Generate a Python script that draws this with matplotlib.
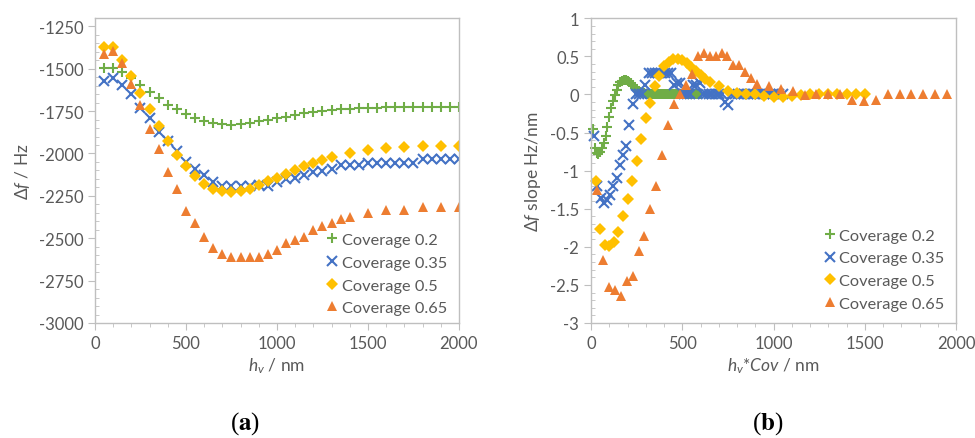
import matplotlib
matplotlib.use('Agg')
import numpy as np
import matplotlib.pyplot as plt
from matplotlib.ticker import MultipleLocator

plt.rcParams['font.family'] = ['Lato', 'DejaVu Sans']
plt.rcParams['axes.unicode_minus'] = False
plt.rcParams['mathtext.fontset'] = 'custom'
plt.rcParams['mathtext.rm'] = 'Lato'
plt.rcParams['mathtext.it'] = 'Lato:italic'
plt.rcParams['mathtext.bf'] = 'Lato:bold'

# h_v grids (nm)
h_dense = [50, 100, 150, 200, 250, 300, 350, 400, 450, 500, 550, 600, 650, 700, 750,
           800, 850, 900, 950, 1000, 1050, 1100, 1150, 1200, 1250, 1300, 1350, 1400,
           1450, 1500, 1550, 1600, 1650, 1700, 1750, 1800, 1850, 1900, 1950, 2000,
           2050, 2100, 2150, 2200, 2250, 2300, 2350, 2400, 2450, 2500, 2550, 2600,
           2650, 2700, 2750, 2800, 2850, 2900, 2950, 3000]
h_yellow = [50, 100, 150, 200, 250, 300, 350, 400, 450, 500, 550, 600, 650, 700, 750,
            800, 850, 900, 950, 1000, 1050, 1100, 1150, 1200, 1250, 1300,
            1400, 1500, 1600, 1700, 1800, 1900, 2000, 2100, 2200, 2300, 2400, 2500,
            2600, 2700, 2800, 2900, 3000]
h_orange = [50, 100, 150, 200, 250, 300, 350, 400, 450, 500, 550, 600, 650, 700, 750,
            800, 850, 900, 950, 1000, 1050, 1100, 1150, 1200, 1250, 1300, 1350, 1400,
            1500, 1600, 1700, 1800, 1900, 2000, 2100, 2200, 2300, 2400, 2500, 2600,
            2700, 2800, 2900, 3000]

coverages = [0.2, 0.35, 0.5, 0.65]
labels = ['Coverage 0.2', 'Coverage 0.35', 'Coverage 0.5', 'Coverage 0.65']
colors = ['#70AD47', '#4472C4', '#FFC000', '#ED7D31']

# (a) frequency shift, h_v <= 2000
df_02 = [-1495, -1495, -1517, -1555, -1595, -1635, -1672, -1713, -1740, -1768,
         -1791, -1807, -1819, -1829, -1830, -1825, -1819, -1809, -1800, -1791,
         -1782, -1772, -1762, -1756, -1748, -1743, -1739, -1737, -1733, -1731,
         -1729, -1727, -1725, -1725, -1725, -1725, -1725, -1725, -1725, -1724]
df_035 = [-1572, -1555, -1595, -1648, -1732, -1789, -1874, -1927, -1988, -2050,
          -2093, -2129, -2168, -2193, -2193, -2193, -2193, -2188, -2193, -2168,
          -2148, -2144, -2129, -2109, -2105, -2093, -2070, -2070, -2070, -2054,
          -2054, -2054, -2054, -2054, -2054, -2030, -2030, -2030, -2030, -2030]
df_05 = [-1374, -1374, -1446, -1544, -1642, -1738, -1838, -1929, -2007, -2076,
         -2132, -2178, -2207, -2221, -2226, -2221, -2211, -2188, -2164, -2142,
         -2119, -2097, -2074, -2058, -2036, -2021,
         -1997, -1982, -1970, -1964, -1958, -1958, -1958]
df_065 = [-1413, -1393, -1468, -1593, -1713, -1854, -1972, -2109, -2211, -2338,
          -2413, -2491, -2556, -2595, -2613, -2613, -2613, -2613, -2593, -2570,
          -2530, -2511, -2491, -2452, -2428, -2413, -2389, -2373,
          -2350, -2335, -2335, -2315, -2315, -2315]

# (b) slope of frequency shift, plotted against h_v*Cov
slope_02 = [-0.45, -0.70, -0.77, -0.78, -0.75, -0.70, -0.64, -0.54, -0.43, -0.30,
            -0.18, -0.09, -0.01, 0.06, 0.12, 0.16, 0.18, 0.19, 0.19, 0.18,
            0.17, 0.15, 0.12, 0.09, 0.06, 0.04, 0.03, 0.02, 0.02, 0.01,
            0.01, 0.01, 0.01, 0.00, 0.00, 0.00, 0.00, 0.00, 0.00, 0.00,
            0.00, 0.00, 0.00, 0.00, 0.00, 0.00, 0.00, 0.00, 0.00, 0.00,
            0.00, 0.00, 0.00, 0.00, 0.00, 0.00, 0.00, 0.00, 0.00, 0.00]
slope_035 = [-0.55, -1.20, -1.36, -1.42, -1.38, -1.32, -1.20, -1.09, -0.93, -0.80,
             -0.68, -0.40, -0.12, 0.00, 0.00, 0.00, 0.12, 0.28, 0.28, 0.28,
             0.28, 0.28, 0.28, 0.28, 0.28, 0.13, 0.15, 0.15, 0.00, 0.00,
             0.00, 0.12, 0.13, 0.15, 0.00, 0.00, 0.00, 0.00, 0.00, 0.00,
             0.00, -0.10, -0.14, 0.00, 0.00, 0.00, 0.00, 0.00, 0.00, 0.00,
             0.00, 0.00, 0.00, 0.00, 0.00, 0.00, 0.00, 0.00, 0.00, 0.00]
slope_05 = [-1.13, -1.77, -1.98, -1.99, -1.94, -1.80, -1.60, -1.37, -1.13, -0.87,
            -0.59, -0.31, -0.11, 0.11, 0.24, 0.38, 0.43, 0.46, 0.47, 0.45,
            0.41, 0.36, 0.31, 0.26, 0.20, 0.16,
            0.11, 0.05, 0.02, 0.01, 0.00, -0.02, -0.035, -0.035, -0.02, -0.01,
            0.00, 0.01, 0.01, 0.01, 0.01, 0.01, 0.01]
slope_065 = [-1.25, -2.17, -2.53, -2.57, -2.65, -2.45, -2.38, -2.05, -1.86, -1.50,
             -1.20, -0.80, -0.40, -0.13, 0.00, 0.12, 0.27, 0.51, 0.54, 0.51,
             0.51, 0.54, 0.51, 0.39, 0.39, 0.29, 0.22, 0.14,
             0.11, 0.075, 0.05, -0.01, 0.00, 0.00, 0.00, -0.07, -0.09, -0.07,
             0.00, 0.00, 0.00, 0.00, 0.00, 0.00]

markers = [dict(marker='+', ms=7.5, mew=1.5),
           dict(marker='x', ms=6.5, mew=1.5),
           dict(marker='D', ms=5.8, mew=0),
           dict(marker='^', ms=7.5, mew=0)]

gray_txt = '#595959'
axis_col = '#BFBFBF'

fig = plt.figure(figsize=(9.75, 4.39), dpi=100)
ax1 = fig.add_axes([0.0974, 0.262, 0.3733, 0.695])
ax2 = fig.add_axes([0.6062, 0.262, 0.3744, 0.694])

# panel (a)
h_all = [h_dense, h_dense, h_yellow, h_orange]
df_all = [df_02, df_035, df_05, df_065]
for h, df, c, m, lab in zip(h_all, df_all, colors, markers, labels):
    hh = np.array(h[:len(df)])
    ax1.plot(hh, df, ls='none', color=c, label=lab, **m)

# panel (b)
sl_all = [slope_02, slope_035, slope_05, slope_065]
for h, sl, cov, c, m, lab in zip(h_all, sl_all, coverages, colors, markers, labels):
    x = np.array(h) * cov
    ax2.plot(x, sl, ls='none', color=c, label=lab, clip_on=False, **m)

ax1.set_xlim(0, 2000)
ax1.set_ylim(-3000, -1200)
ax1.xaxis.set_major_locator(MultipleLocator(500))
ax1.xaxis.set_minor_locator(MultipleLocator(100))
ax1.set_yticks(np.arange(-3000, -1249, 250))
ax1.yaxis.set_minor_locator(MultipleLocator(50))

ax2.set_xlim(0, 2000)
ax2.set_ylim(-3, 1)
ax2.xaxis.set_major_locator(MultipleLocator(500))
ax2.xaxis.set_minor_locator(MultipleLocator(100))
ax2.yaxis.set_major_locator(MultipleLocator(0.5))
ax2.yaxis.set_minor_locator(MultipleLocator(0.1))
ax2.set_yticklabels([('%g' % v) for v in ax2.get_yticks()])

legend_pos = [(1.0, -0.012), (1.0, 0.003)]
for ax, pos in zip((ax1, ax2), legend_pos):
    for s in ax.spines.values():
        s.set_color(axis_col)
        s.set_linewidth(1.0)
    ax.tick_params(axis='both', which='major', labelsize=12, labelcolor=gray_txt,
                   color=axis_col, length=5, direction='out')
    ax.tick_params(axis='y', which='minor', color=axis_col, length=3, direction='in')
    ax.tick_params(axis='x', which='minor', color=axis_col, length=3, direction='out')
    leg = ax.legend(loc='lower right', bbox_to_anchor=pos, frameon=False, fontsize=11.8,
                    handletextpad=0.1, handlelength=1.0, labelspacing=0.5,
                    borderaxespad=0.3)
    for t in leg.get_texts():
        t.set_color(gray_txt)

ax1.set_xlabel(r'$h_v$ / nm', fontsize=12.5, color=gray_txt, labelpad=3)
ax1.set_ylabel(r'$\Delta f$ / Hz', fontsize=12.5, color=gray_txt, labelpad=5)
ax2.set_xlabel(r'$h_v$*$Cov$ / nm', fontsize=12.5, color=gray_txt, labelpad=3)
ax2.set_ylabel(r'$\Delta f$ slope Hz/nm', fontsize=12.5, color=gray_txt, labelpad=5)

fig.text(0.251, 0.022, r'($\mathbf{a}$)', fontsize=18, ha='center', family='Liberation Serif',
         math_fontfamily='stix')
fig.text(0.787, 0.022, r'($\mathbf{b}$)', fontsize=18, ha='center', family='Liberation Serif',
         math_fontfamily='stix')

fig.savefig('out.png', dpi=100)
